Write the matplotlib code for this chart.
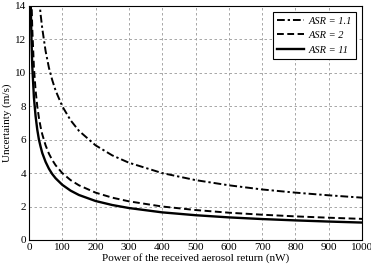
import matplotlib
matplotlib.use('Agg')
import matplotlib.pyplot as plt

plt.rcParams['font.family'] = ['Liberation Serif', 'DejaVu Serif']

# received power (nW) and read-off uncertainty (m/s)
power = [4, 6, 8, 10, 15, 20, 25, 30, 35, 40, 50, 60, 70, 80, 100, 125, 150,
         200, 250, 300, 400, 500, 600, 700, 800, 900, 1000]
asr_11 = [16.5, 13.5, 11.7, 10.4, 8.5, 7.4, 6.6, 6.0, 5.58, 5.2, 4.67, 4.26,
          3.94, 3.69, 3.3, 2.95, 2.69, 2.33, 2.09, 1.91, 1.65, 1.48, 1.35,
          1.25, 1.17, 1.10, 1.04]
asr_2 = [20.0, 16.3, 14.1, 12.65, 10.3, 8.94, 8.0, 7.3, 6.76, 6.32, 5.66, 5.16,
         4.78, 4.47, 4.0, 3.58, 3.27, 2.83, 2.53, 2.31, 2.0, 1.79, 1.63, 1.51,
         1.41, 1.33, 1.26]
power_11 = [25, 30, 35, 40, 50, 60, 70, 80, 100, 125, 150, 200, 250, 300, 400,
            500, 600, 700, 800, 900, 1000]
asr_1_1 = [16.0, 14.6, 13.5, 12.65, 11.3, 10.3, 9.56, 8.94, 8.0, 7.16, 6.53,
           5.66, 5.06, 4.62, 4.0, 3.58, 3.27, 3.02, 2.83, 2.67, 2.53]

fig = plt.figure(figsize=(3.71, 2.69), dpi=100)
ax = fig.add_axes([0.078, 0.108, 0.898, 0.87])

ax.plot(power_11, asr_1_1, color='black', linestyle=(0, (4, 1.5, 1.2, 1.5)),
        linewidth=1.4, label='ASR = 1.1')
ax.plot(power, asr_2, color='black', linestyle=(0, (3.5, 1.8)),
        linewidth=1.4, label='ASR = 2')
ax.plot(power, asr_11, color='black', linestyle='-', linewidth=1.7, label='ASR = 11')

ax.set_xlim(0, 1000)
ax.set_ylim(0, 14)
ax.set_xticks(range(0, 1001, 100))
ax.set_yticks(range(0, 15, 2))
ax.tick_params(labelsize=8, length=0, pad=2)
ax.grid(True, linestyle=(0, (3, 3)), color='#999999', linewidth=0.6)
ax.set_xlabel('Power of the received aerosol return (nW)', fontsize=8, labelpad=1)
ax.set_ylabel('Uncertainty (m/s)', fontsize=8, labelpad=2)

leg = ax.legend(loc='upper right', prop={'style': 'italic', 'size': 7.5},
                fancybox=False, edgecolor='black', framealpha=1,
                handlelength=2.6, handletextpad=0.4, borderaxespad=0.6)
leg.get_frame().set_linewidth(0.8)

fig.savefig('out.png', dpi=100)
